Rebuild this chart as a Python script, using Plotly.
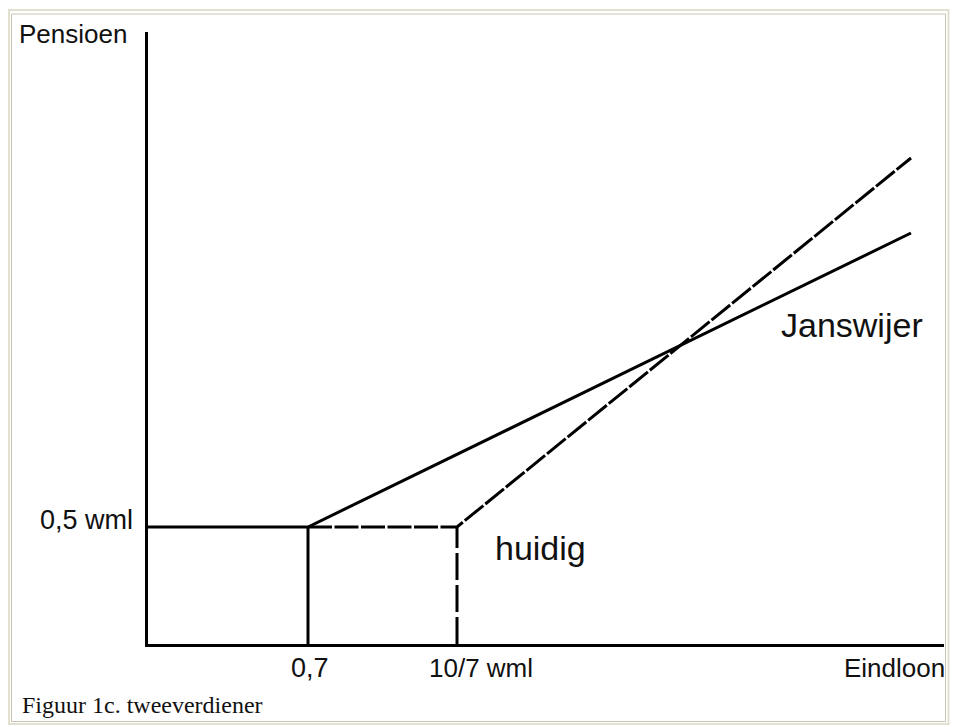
import plotly.graph_objects as go

# Schematic units (not to scale, as in the original drawing)
W, H = 958, 727
ML, MR, MT, MB = 148, 14, 32, 83
PW, PH = W - ML - MR, H - MT - MB

# Break points on the "Eindloon" axis (schematic units)
x_07 = 160          # 0,7
x_107 = 309         # 10/7 wml
x_end = 763         # right end of the lines
# Pension levels (schematic units)
floor_pension = 117  # 0,5 wml
janswijer_end = 411
huidig_end = 486

janswijer_x = [0, x_07, x_end]
janswijer_y = [floor_pension, floor_pension, janswijer_end]
huidig_x = [x_07, x_107, x_end]
huidig_y = [floor_pension, floor_pension, huidig_end]

x_labels = ["0,7", "10/7 wml", "Eindloon"]
y_labels = ["0,5 wml", "Pensioen"]
line_labels = ["Janswijer", "huidig"]
caption = "Figuur 1c. tweeverdiener"

LW = 3
DASH = "24px,2.5px"
fig = go.Figure()
fig.add_trace(go.Scatter(x=janswijer_x, y=janswijer_y, mode="lines",
                         line=dict(color="black", width=LW), hoverinfo="skip"))
fig.add_trace(go.Scatter(x=[x_07, x_07], y=[0, floor_pension], mode="lines",
                         line=dict(color="black", width=LW), hoverinfo="skip"))
fig.add_trace(go.Scatter(x=huidig_x, y=huidig_y, mode="lines",
                         line=dict(color="black", width=LW, dash=DASH), hoverinfo="skip"))
fig.add_trace(go.Scatter(x=[x_107, x_107], y=[0, floor_pension], mode="lines",
                         line=dict(color="black", width=LW, dash="27px,5px"), hoverinfo="skip"))


def px2paper_x(px):
    return (px - ML) / PW


def px2paper_y(py):
    return (H - MB - py) / PH


SANS = "Liberation Sans, Arial, Helvetica, sans-serif"
TXT = "#111111"


def ann(text, x, y, xanchor, size, family=SANS):
    # x, y in schematic (data) units, placed via paper coordinates so that
    # labels outside the plotting area are still shown
    fig.add_annotation(text=text, x=x / PW, y=y / PH, xref="paper", yref="paper",
                       showarrow=False, xanchor=xanchor, yanchor="middle",
                       font=dict(family=family, size=size, color=TXT))


ann(y_labels[1], -131, 610, "left", 26)
ann(y_labels[0], -13, 124, "right", 27)
ann(x_labels[0], x_07 + 2, -24, "center", 27)
ann(x_labels[1], 279, -24, "left", 26)
ann(x_labels[2], 799, -24, "right", 26)
ann(line_labels[1], 345, 96, "left", 34)
ann(line_labels[0], 631, 319, "left", 34)
ann(caption, -128, -61, "left", 24, family="Liberation Serif, Times New Roman, serif")

# Frame around the figure
fig.add_shape(type="rect", xref="paper", yref="paper",
              x0=px2paper_x(9), x1=px2paper_x(948.5), y0=px2paper_y(724), y1=px2paper_y(10),
              line=dict(color="#e4e0cf", width=2), layer="below")
fig.add_shape(type="rect", xref="paper", yref="paper",
              x0=px2paper_x(11.5), x1=px2paper_x(945.5), y0=px2paper_y(721.5), y1=px2paper_y(14),
              line=dict(color="#c8c4b4", width=1), layer="below")

fig.update_xaxes(range=[0, PW], showgrid=False, zeroline=False, showticklabels=False,
                 ticks="", showline=True, linecolor="black", linewidth=LW, fixedrange=True)
fig.update_yaxes(range=[0, PH], showgrid=False, zeroline=False, showticklabels=False,
                 ticks="", showline=True, linecolor="black", linewidth=LW, fixedrange=True)
fig.update_layout(width=W, height=H, margin=dict(l=ML, r=MR, t=MT, b=MB),
                  paper_bgcolor="white", plot_bgcolor="white", showlegend=False)

fig.write_html("out.html", config={"displayModeBar": False},
               post_script="document.body.style.margin='0px';document.body.style.overflow='hidden';")
